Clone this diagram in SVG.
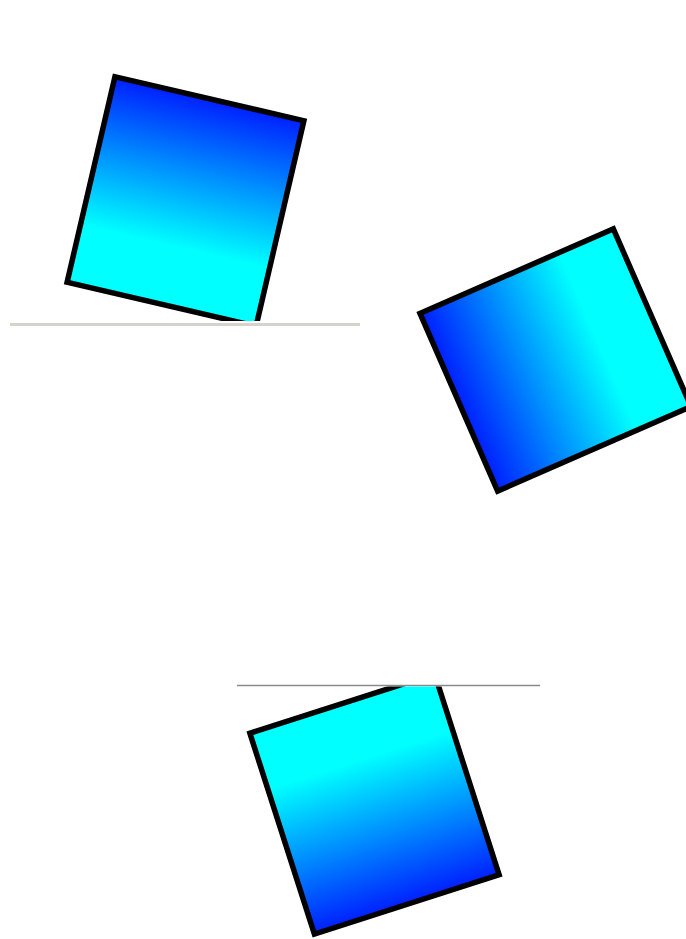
<svg xmlns="http://www.w3.org/2000/svg" width="686" height="939" viewBox="0 0 686 939">
  <style>
    .box { fill: url(#grad); stroke: #000; stroke-width: 5.5; stroke-linejoin: miter; }
  </style>
  <defs>
    <linearGradient id="grad" x1="0" y1="0" x2="0" y2="1">
      <stop offset="0" stop-color="#0020ff"/>
      <stop offset="0.72" stop-color="#00ffff"/>
      <stop offset="1" stop-color="#00ffff"/>
    </linearGradient>
    <clipPath id="clipTop"><rect x="0" y="0" width="686" height="321"/></clipPath>
    <clipPath id="clipBottom"><rect x="0" y="686.5" width="686" height="260"/></clipPath>
  </defs>
  <rect width="686" height="939" fill="#fff"/>
  <g id="surfaces">
    <line x1="10" y1="324.5" x2="360" y2="324.5" stroke="#d6d2cc" stroke-width="3"/>
    <line x1="237" y1="685.5" x2="540" y2="685.5" stroke="#8a8a8a" stroke-width="1.5"/>
  </g>
  <g id="box1" clip-path="url(#clipTop)">
    <g transform="translate(185.5,201.5) rotate(13.1)">
      <rect class="box" x="-97" y="-105.5" width="194" height="211"/>
    </g>
  </g>
  <g id="box2">
    <g transform="translate(555.5,360) rotate(-113.6)">
      <rect class="box" x="-97" y="-105.5" width="194" height="211"/>
    </g>
  </g>
  <g id="box3" clip-path="url(#clipBottom)">
    <g transform="translate(374.5,804) rotate(162.2)">
      <rect class="box" x="-97" y="-105.5" width="194" height="211"/>
    </g>
  </g>
</svg>
